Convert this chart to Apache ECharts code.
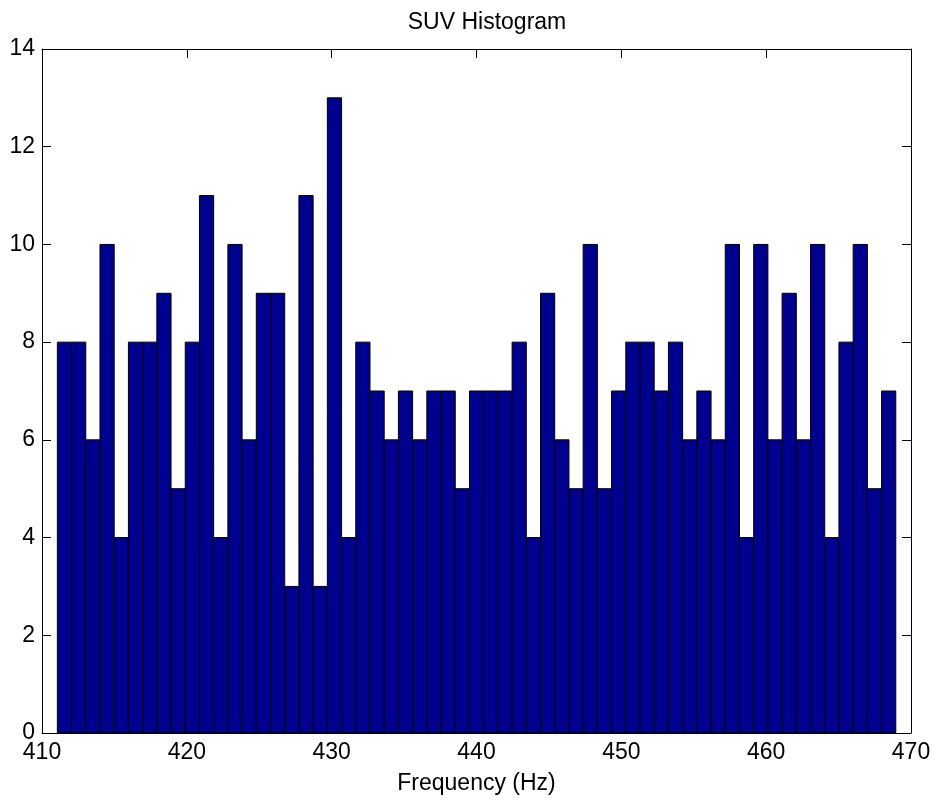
<!DOCTYPE html>
<html>
<head>
<meta charset="utf-8">
<title>SUV Histogram</title>
<script src="https://cdn.jsdelivr.net/npm/echarts@6/dist/echarts.min.js"></script>
<style>
  html, body { margin: 0; padding: 0; background: #fff; }
  #chart { width: 938px; height: 805px; }
</style>
</head>
<body>
<div id="chart"></div>
<script>
// Histogram bin counts (59 equal-width bins)
const counts = [
  8, 8, 6, 10, 4, 8, 8, 9, 5, 8, 11, 4, 10, 6, 9, 9, 3, 11, 3, 13,
  4, 8, 7, 6, 7, 6, 7, 7, 5, 7, 7, 7, 8, 4, 9, 6, 5, 10, 5, 7,
  8, 8, 7, 8, 6, 7, 6, 10, 4, 10, 6, 9, 6, 10, 4, 8, 10, 5, 7
];
// Lower edge of the first bin and the upper edge of the last bin (Hz)
const binLow = 411.06;
const binHigh = 468.95;
const xTicks = [410, 420, 430, 440, 450, 460, 470];
const yTicks = [0, 2, 4, 6, 8, 10, 12, 14];

const binWidth = (binHigh - binLow) / counts.length;
const bins = counts.map((c, i) => [binLow + i * binWidth, binLow + (i + 1) * binWidth, c]);

const FONT = 'Liberation Sans, Arial, Helvetica, sans-serif';
const FS = 23;

const chart = echarts.init(document.getElementById('chart'), null, { renderer: 'canvas' });

const axisLine = { show: true, onZero: false, lineStyle: { color: '#000', width: 1 } };
const axisTick = { show: true, inside: true, length: 9, lineStyle: { color: '#000', width: 1 } };

chart.setOption({
  animation: false,
  backgroundColor: '#fff',
  title: {
    text: 'SUV Histogram',
    left: 482, top: 6, textAlign: 'center',
    textStyle: { fontFamily: FONT, fontSize: FS, fontWeight: 'normal', color: '#000' }
  },
  grid: { left: 42, right: 27, top: 49, bottom: 72, containLabel: false },
  xAxis: [
    {
      type: 'value', min: xTicks[0], max: xTicks[xTicks.length - 1], interval: 10,
      position: 'bottom',
      name: 'Frequency (Hz)', nameLocation: 'middle', nameGap: 39,
      nameTextStyle: { fontFamily: FONT, fontSize: FS, color: '#000' },
      axisLine, axisTick,
      axisLabel: { fontFamily: FONT, fontSize: FS, color: '#000', margin: 8 },
      splitLine: { show: false }
    },
    {
      type: 'value', min: xTicks[0], max: xTicks[xTicks.length - 1], interval: 10,
      position: 'top',
      axisLine, axisTick,
      axisLabel: { show: false },
      splitLine: { show: false }
    }
  ],
  yAxis: [
    {
      type: 'value', min: yTicks[0], max: yTicks[yTicks.length - 1], interval: 2,
      position: 'left',
      axisLine, axisTick,
      axisLabel: { fontFamily: FONT, fontSize: FS, color: '#000', margin: 7 },
      splitLine: { show: false }
    },
    {
      type: 'value', min: yTicks[0], max: yTicks[yTicks.length - 1], interval: 2,
      position: 'right',
      axisLine, axisTick,
      axisLabel: { show: false },
      splitLine: { show: false }
    }
  ],
  series: [{
    type: 'custom',
    xAxisIndex: 0,
    yAxisIndex: 0,
    data: bins,
    encode: { x: [0, 1], y: 2 },
    renderItem: function (params, api) {
      const p0 = api.coord([api.value(0), api.value(2)]);
      const p1 = api.coord([api.value(1), 0]);
      return {
        type: 'rect',
        shape: { x: p0[0], y: p0[1], width: p1[0] - p0[0], height: p1[1] - p0[1] },
        style: { fill: '#00008F', stroke: '#000', lineWidth: 1 }
      };
    }
  }]
});
</script>
</body>
</html>
